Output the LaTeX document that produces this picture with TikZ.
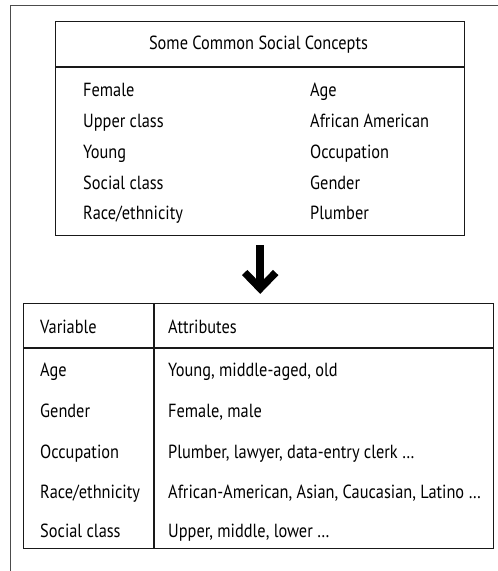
\documentclass[tikz,border=0pt]{standalone}
\usepackage{fontspec}
\setmainfont[FakeStretch=0.86]{PT Sans}
\usetikzlibrary{calc}
\tikzset{
  box/.style={draw=black!90, line width=1.4pt, rectangle, inner sep=0pt, anchor=north west},
  rule/.style={draw=black!90, line width=1.2pt},
  frame/.style={draw=black!70, line width=0.9pt},
  txt/.style={anchor=base west, inner sep=0pt, font=\fontsize{19}{22}\selectfont},
  ctxt/.style={anchor=base, inner sep=0pt, font=\fontsize{19}{22}\selectfont},
  shaft/.style={line width=7.5pt, shorten <=9pt, shorten >=14.5pt},
  chevron/.style={line width=7.5pt, miter limit=10, line join=miter}
}
\begin{document}
\begin{tikzpicture}[x=1pt,y=-1pt]
\useasboundingbox (0,0) rectangle (498,571);
% outer frame (top and left visible)
\coordinate (fl) at (10,571);
\coordinate (ftl) at (10,5);
\coordinate (ftr) at (498,5);
\draw[frame] (fl) -- (ftl) -- (ftr);
% concepts box
\node[box, minimum width=409pt, minimum height=214pt] (concepts) at (55,21) {};
\coordinate (hl) at (55,67);
\coordinate (hr) at (464,67);
\draw[rule] (hl) -- (hr);
\node[ctxt] (title) at (258.5,49) {Some Common Social Concepts};
\node[txt] (c1) at (83,96) {Female};
\node[txt] (c2) at (83,127) {Upper class};
\node[txt] (c3) at (83,158) {Young};
\node[txt] (c4) at (83,189) {Social class};
\node[txt] (c5) at (83,219) {Race/ethnicity};
\node[txt] (d1) at (310,96) {Age};
\node[txt] (d2) at (310,127) {African American};
\node[txt] (d3) at (310,158) {Occupation};
\node[txt] (d4) at (310,189) {Gender};
\node[txt] (d5) at (310,219) {Plumber};
% table
\node[box, minimum width=470pt, minimum height=245pt] (tab) at (23,303) {};
\coordinate (sl) at (23,348);
\coordinate (sr) at (493,348);
\draw[rule] (sl) -- (sr);
\coordinate (vt) at (154,303);
\coordinate (vb) at (154,548);
\draw[rule] (vt) -- (vb);
\node[txt] (hv) at (40,333) {Variable};
\node[txt] (ha) at (168,333) {Attributes};
\node[txt] (v1) at (40,376) {Age};
\node[txt] (v2) at (40,417) {Gender};
\node[txt] (v3) at (40,458) {Occupation};
\node[txt] (v4) at (40,498) {Race/ethnicity};
\node[txt] (v5) at (40,537) {Social class};
\node[txt] (a1) at (168,376) {Young, middle-aged, old};
\node[txt] (a2) at (168,417) {Female, male};
\node[txt] (a3) at (168,458) {Plumber, lawyer, data-entry clerk \dots};
\node[txt] (a4) at (168,498) {African-American, Asian, Caucasian, Latino \dots};
\node[txt] (a5) at (168,537) {Upper, middle, lower \dots};
% arrow
\coordinate (atop) at (tab.north -| concepts.south);
\draw[shaft] (concepts.south) -- (atop);
\coordinate (tip) at ($(atop)+(0,-14.5)$);
\draw[chevron] ($(tip)+(-15.5,-16)$) -- (tip) -- ($(tip)+(15.5,-16)$);
\end{tikzpicture}
\end{document}
